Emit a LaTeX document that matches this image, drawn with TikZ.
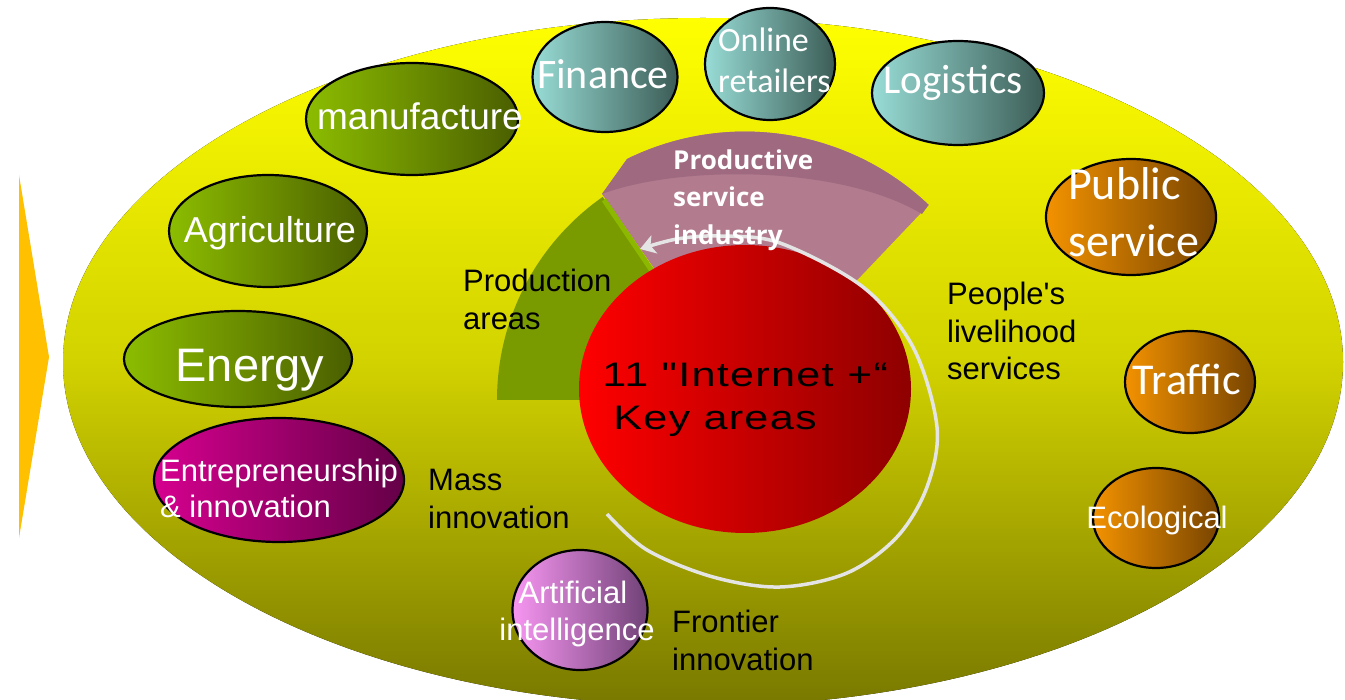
\documentclass[tikz,border=0pt]{standalone}
\usepackage{fontspec}
\setmainfont{Liberation Sans}[Ligatures=TeXOff]
\newfontfamily\calibrifont{Carlito}
\newfontfamily\opensansfont{Open Sans}
\newfontfamily\corefont[LetterSpace=3]{Liberation Sans}
\usetikzlibrary{shapes.geometric,arrows.meta}
\newcommand\pxsize[1]{\fontsize{#1}{#1}\selectfont}

\definecolor{fieldTop}{HTML}{FFFF00}
\definecolor{fieldMid}{HTML}{D2D200}
\definecolor{fieldBot}{HTML}{787800}
\definecolor{wedge}{HTML}{FFC000}
\definecolor{grnL}{HTML}{8CBD00}
\definecolor{grnR}{HTML}{4A5E00}
\definecolor{tealL}{HTML}{98DDD6}
\definecolor{tealR}{HTML}{3C5C56}
\definecolor{orgL}{HTML}{F39200}
\definecolor{orgR}{HTML}{774400}
\definecolor{magL}{HTML}{D6008F}
\definecolor{magR}{HTML}{640047}
\definecolor{purL}{HTML}{F796F2}
\definecolor{purR}{HTML}{714277}
\definecolor{redL}{HTML}{FF0000}
\definecolor{redR}{HTML}{8E0000}
\definecolor{pinkMain}{HTML}{B27B8E}
\definecolor{pinkBand}{HTML}{9F6A80}
\definecolor{sectorGreen}{HTML}{7A9B00}
\definecolor{stripeGreen}{HTML}{8CB800}
\definecolor{arcGray}{HTML}{E4E4E4}

\begin{document}
\begin{tikzpicture}[x=1pt,y=-1pt,
  bubble/.style={ellipse, draw=black, line width=2.2pt, inner sep=0pt},
  greenbub/.style={bubble, left color=grnL, right color=grnR},
  tealbub/.style={bubble, left color=tealL, right color=tealR},
  orangebub/.style={bubble, left color=orgL, right color=orgR},
  magentabub/.style={bubble, left color=magL, right color=magR},
  purplebub/.style={bubble, left color=purL, right color=purR},
  wtext/.style={text=white, inner sep=0pt, anchor=base},
  wtextL/.style={text=white, inner sep=0pt, anchor=base west},
  btext/.style={text=black, inner sep=0pt, anchor=base west, font=\pxsize{31}},
  coretext/.style={text=black, inner sep=0pt, anchor=base west, xscale=1.27, font=\corefont\pxsize{34}},
  sectortext/.style={text=white, inner sep=0pt, anchor=base west, font=\opensansfont\bfseries\pxsize{26}},
]
\useasboundingbox (0,0) rectangle (1345,700);

% yellow field and the wedge pointing at it
\fill[top color=fieldTop, bottom color=fieldBot, middle color=fieldMid]
  (703,362) ellipse [x radius=640, y radius=344];
\fill[wedge] (19,175) -- (49,357) -- (19,538) -- cycle;

% productive service sector with its darker rim
\fill[pinkMain] (602,194) -- (627,159) arc[start angle=243.8, end angle=313.5, radius=267]
  -- (745,398) -- cycle;
\fill[pinkBand] (602,194) -- (627,159) arc[start angle=243.8, end angle=313.5, radius=267]
  -- (922,214) .. controls (840,165) and (680,165) .. (602,194) -- cycle;

% production sector
\fill[sectorGreen] (745,400) -- (497,400) arc[start angle=180, end angle=235, radius=248] -- cycle;
\draw[stripeGreen, line width=5pt] (604,200) -- (665,290);

% core circle
\node[ellipse, inner sep=0pt, minimum width=332pt, minimum height=288pt,
      left color=redL, right color=redR] (core) at (745,389) {};
\node[coretext] (coreA) at (602,387) {11 "Internet +“};
\node[coretext] (coreB) at (613,430) {Key areas};

% circulating arrow round the core
\coordinate (arcS) at (607,514);
\coordinate (arcE) at (640,249);
\draw[arcGray, line width=3.5pt, -{Stealth[length=15pt, width=19pt, inset=4pt]}]
  plot[smooth, tension=0.55] coordinates {(arcS) (647,550) (713,577) (780,587) (847,573)
  (897,537) (927,487) (937,427) (913,347) (863,287) (780,243) (720,236) (677,239) (arcE)};

% sector captions
\node[sectortext] (ps1) at (673,170) {Productive};
\node[sectortext] (ps2) at (673,207) {service};
\node[sectortext] (ps3) at (673,245) {industry};

\node[btext] (pa1) at (463,292) {Production};
\node[btext] (pa2) at (463,330) {areas};
\node[btext] (pl1) at (947,305) {People's};
\node[btext] (pl2) at (947,343) {livelihood};
\node[btext] (pl3) at (947,380) {services};
\node[btext] (mi1) at (428,491) {Mass};
\node[btext] (mi2) at (428,529) {innovation};
\node[btext] (fi1) at (672,632) {Frontier};
\node[btext] (fi2) at (672,670) {innovation};

% production bubbles
\node[greenbub, minimum width=212pt, minimum height=112pt] (manu) at (412,119) {};
\node[wtext, font=\pxsize{37}] (manuT) at (420,130) {manufacture};
\node[greenbub, minimum width=198pt, minimum height=112pt] (agri) at (268,231) {};
\node[wtext, font=\pxsize{36}] (agriT) at (270,243) {Agriculture};
\node[greenbub, minimum width=228pt, minimum height=96pt] (ener) at (238,359) {};
\node[wtext, font=\pxsize{47}] (enerT) at (250,382) {Energy};

% productive service bubbles
\node[tealbub, minimum width=145pt, minimum height=110pt] (fin) at (605,77) {};
\node[wtext, font=\calibrifont\pxsize{42}] (finT) at (603,89) {Finance};
\node[tealbub, minimum width=130pt, minimum height=112pt] (onl) at (770,64) {};
\node[wtextL, font=\calibrifont\pxsize{34}] (onlT1) at (718,52) {Online};
\node[wtextL, font=\calibrifont\pxsize{34}] (onlT2) at (718,93) {retailers};
\node[tealbub, minimum width=172pt, minimum height=104pt] (log) at (958,93) {};
\node[wtext, font=\calibrifont\pxsize{41}] (logT) at (953,94) {Logistics};

% livelihood bubbles
\node[orangebub, minimum width=170pt, minimum height=116pt] (pub) at (1131,217) {};
\node[wtextL, font=\calibrifont\pxsize{46}] (pubT1) at (1068,200) {Public};
\node[wtextL, font=\calibrifont\pxsize{46}] (pubT2) at (1068,257) {service};
\node[orangebub, minimum width=130pt, minimum height=102pt] (tra) at (1190,382) {};
\node[wtext, font=\calibrifont\pxsize{44}] (traT) at (1187,395) {Traffic};
\node[orangebub, minimum width=126pt, minimum height=100pt] (eco) at (1156,518) {};
\node[wtext, font=\pxsize{31}] (ecoT) at (1157,529) {Ecological};

% innovation bubbles
\node[magentabub, minimum width=250pt, minimum height=124pt] (ent) at (279,480) {};
\node[wtextL, font=\pxsize{31}] (entT1) at (160,482) {Entrepreneurship};
\node[wtextL, font=\pxsize{31}] (entT2) at (160,518) {\& innovation};
\node[purplebub, minimum width=135pt, minimum height=120pt] (ai) at (580,610) {};
\node[wtext, font=\pxsize{31}] (aiT1) at (573,603) {Artificial};
\node[wtext, font=\pxsize{31}] (aiT2) at (577,640) {intelligence};
\end{tikzpicture}
\end{document}
